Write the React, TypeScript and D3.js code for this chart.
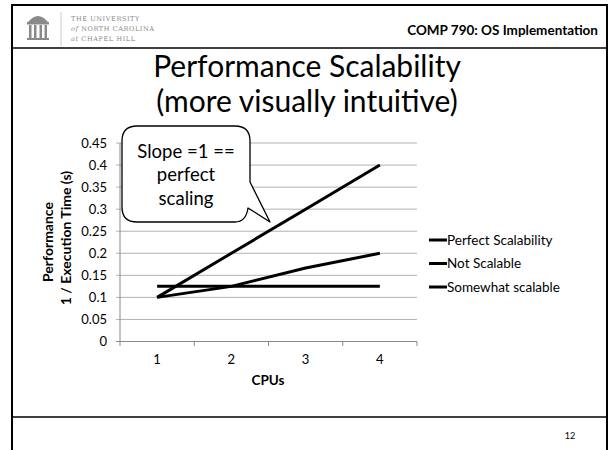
import * as d3 from "d3";

const cpus = ["1", "2", "3", "4"];
const perfectScalability = [0.1, 0.2, 0.3, 0.4];
const notScalable = [0.125, 0.125, 0.125, 0.125];
const somewhatScalable = [0.1, 0.125, 0.1667, 0.2];
const yTicks = [0, 0.05, 0.1, 0.15, 0.2, 0.25, 0.3, 0.35, 0.4, 0.45];
const seriesNames = ["Perfect Scalability", "Not Scalable", "Somewhat scalable"];

const W = 611;
const H = 450;
const font = "Lato, 'Open Sans', sans-serif";

export default function App() {
  const x = d3.scaleBand().domain(cpus).range([120, 417]).padding(0);
  const y = d3.scaleLinear().domain([0, 0.45]).range([341.5, 143]);

  const line = d3
    .line<number>()
    .x((_, i) => (x(cpus[i]) ?? 0) + x.bandwidth() / 2)
    .y((d) => y(d));

  const series = [perfectScalability, notScalable, somewhatScalable];
  const xTickPos = [...cpus.map((c) => x(c) ?? 0), 417];

  return (
    <svg
      width={W}
      height={H}
      style={{ position: "absolute", left: 0, top: 0, background: "#fff" }}
    >
      {/* slide frame */}
      <rect x={0} y={0} width={W} height={H} fill="#fff" />
      <line x1={12} y1={5} x2={607} y2={5} stroke="#000" strokeWidth={2} />
      <line x1={12} y1={4} x2={12} y2={H} stroke="#000" strokeWidth={2} />
      <line x1={607} y1={4} x2={607} y2={H} stroke="#000" strokeWidth={2} />
      <line x1={12} y1={48} x2={607} y2={48} stroke="#000" strokeWidth={1.5} />
      <line x1={12} y1={417} x2={607} y2={417} stroke="#000" strokeWidth={1.5} />

      {/* logo */}
      <g fill="#8a8a8a">
        <path d="M28 22 Q38 10 48 22 Z" />
        <rect x={27} y={22} width={22} height={2.5} />
        <rect x={29} y={25} width={2.5} height={13} />
        <rect x={34} y={25} width={2.5} height={13} />
        <rect x={39.5} y={25} width={2.5} height={13} />
        <rect x={44.5} y={25} width={2.5} height={13} />
        <rect x={27} y={38} width={22} height={2} />
      </g>
      <line x1={61} y1={12} x2={61} y2={46} stroke="#ccc" strokeWidth={1} />
      <g fill="#888" fontFamily="'DejaVu Serif', serif" fontSize={6.5} letterSpacing={0.6}>
        <text x={71} y={21}>THE UNIVERSITY</text>
        <text x={71} y={31}>
          <tspan fontStyle="italic">of</tspan> NORTH CAROLINA
        </text>
        <text x={71} y={41}>
          <tspan fontStyle="italic">at</tspan> CHAPEL HILL
        </text>
      </g>
      <text
        x={598}
        y={35}
        textAnchor="end"
        fontFamily={font}
        fontWeight="bold"
        fontSize={13.5}
      >
        COMP 790: OS Implementation
      </text>

      {/* title */}
      <g fontFamily={font} fontSize={30} textAnchor="middle" fill="#000">
        <text x={307} y={77}>Performance Scalability</text>
        <text x={307} y={112}>(more visually intuitive)</text>
      </g>

      {/* gridlines */}
      {yTicks.map((t) => (
        <line
          key={t}
          x1={116}
          x2={417}
          y1={y(t)}
          y2={y(t)}
          stroke={t === 0 ? "#888" : "#b3b3b3"}
          strokeWidth={1}
        />
      ))}
      <line x1={120} x2={120} y1={143} y2={341.5} stroke="#888" />
      {xTickPos.map((p, i) => (
        <line key={i} x1={p} x2={p} y1={341.5} y2={346} stroke="#888" />
      ))}

      {/* y tick labels */}
      <g fontFamily={font} fontSize={13} textAnchor="end" fill="#000">
        {yTicks.map((t) => (
          <text key={t} x={107} y={y(t) + 4.5}>
            {String(t)}
          </text>
        ))}
      </g>
      {/* x tick labels */}
      <g fontFamily={font} fontSize={13} textAnchor="middle" fill="#000">
        {cpus.map((c) => (
          <text key={c} x={(x(c) ?? 0) + x.bandwidth() / 2} y={364}>
            {c}
          </text>
        ))}
        <text x={268} y={385} fontWeight="bold" fontSize={13.5}>
          CPUs
        </text>
      </g>
      {/* y axis title */}
      <g fontFamily={font} fontSize={14} fontWeight="bold" textAnchor="middle">
        <text transform="translate(53,242) rotate(-90)">Performance</text>
        <text transform="translate(71,238) rotate(-90)">1 / Execution Time (s)</text>
      </g>

      {/* series */}
      {series.map((s, i) => (
        <path
          key={i}
          d={line(s) ?? ""}
          fill="none"
          stroke="#000"
          strokeWidth={3}
          strokeLinejoin="round"
        />
      ))}

      {/* legend */}
      <g fontFamily={font} fontSize={13.5}>
        {seriesNames.map((n, i) => (
          <g key={n} transform={`translate(429,${240 + i * 23.5})`}>
            <line x1={0} x2={18} y1={0} y2={0} stroke="#000" strokeWidth={3} />
            <text x={18} y={4.5}>
              {n}
            </text>
          </g>
        ))}
      </g>

      {/* callout */}
      <path
        d="M137 126 H235 Q250 126 250 141 V182 L270 222 L248 208 Q246 222 235 222 H137 Q122 222 122 207 V141 Q122 126 137 126 Z"
        fill="#fff"
        stroke="#000"
        strokeWidth={1.3}
        strokeLinejoin="round"
      />
      <g fontFamily={font} fontSize={18.5} textAnchor="middle">
        <text x={186} y={158}>Slope =1 ==</text>
        <text x={186} y={181}>perfect</text>
        <text x={186} y={205}>scaling</text>
      </g>

      <text x={570} y={439} fontFamily={font} fontSize={9} textAnchor="middle">
        12
      </text>
    </svg>
  );
}
